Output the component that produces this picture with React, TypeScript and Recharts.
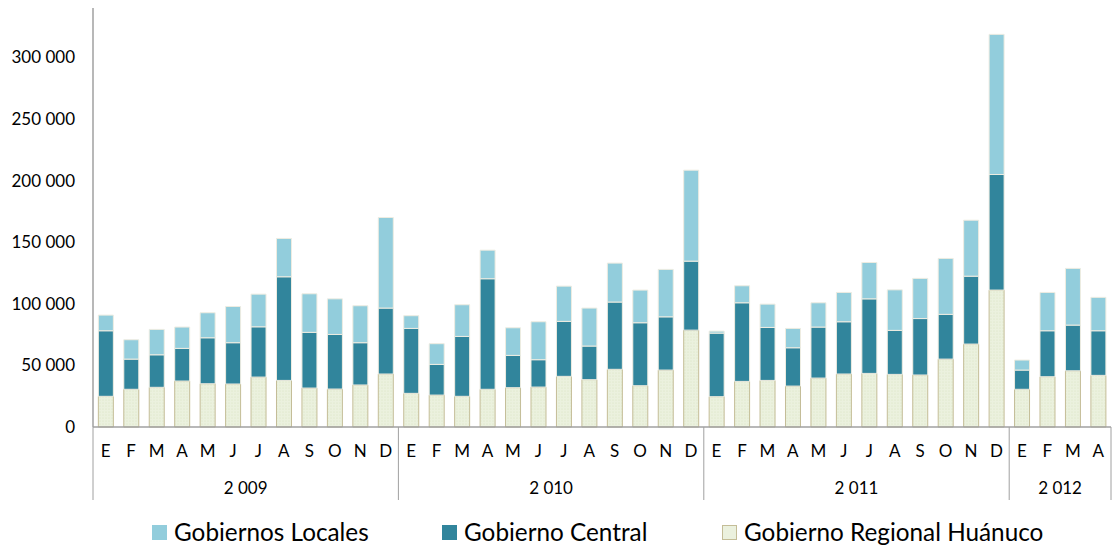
import { Bar, BarChart, XAxis, YAxis } from "recharts";

const months = [
  "E", "F", "M", "A", "M", "J", "J", "A", "S", "O", "N", "D",
  "E", "F", "M", "A", "M", "J", "J", "A", "S", "O", "N", "D",
  "E", "F", "M", "A", "M", "J", "J", "A", "S", "O", "N", "D",
  "E", "F", "M", "A",
];

const years = [
  2009, 2009, 2009, 2009, 2009, 2009, 2009, 2009, 2009, 2009, 2009, 2009,
  2010, 2010, 2010, 2010, 2010, 2010, 2010, 2010, 2010, 2010, 2010, 2010,
  2011, 2011, 2011, 2011, 2011, 2011, 2011, 2011, 2011, 2011, 2011, 2011,
  2012, 2012, 2012, 2012,
];

// Gobierno Regional Huánuco (bottom segment)
const regional = [
  24900, 30600, 32200, 37300, 35100, 34900, 40500, 37800, 31600, 30800, 34100, 43000,
  27300, 25900, 24900, 30600, 31900, 32400, 41100, 38400, 46800, 33500, 46200, 78600,
  24600, 37000, 37800, 33200, 39700, 43000, 43500, 42700, 42200, 55100, 67300, 111100,
  30600, 40800, 45600, 41900,
];

// Gobierno Central (middle segment)
const central = [
  53200, 24500, 26400, 26500, 37300, 33500, 40800, 84100, 45200, 44300, 34300, 53500,
  52700, 24900, 48600, 89700, 26200, 22200, 44600, 27300, 54600, 51100, 43200, 56000,
  51600, 63800, 43000, 31100, 41400, 42400, 60500, 35700, 45800, 36300, 55100, 93800,
  15600, 37300, 37100, 36200,
];

// Gobiernos Locales (top segment)
const locales = [
  12700, 15700, 20600, 17300, 20300, 29400, 26500, 31100, 31300, 28900, 30000, 73500,
  10300, 16800, 25700, 23200, 22400, 30800, 28600, 30800, 31600, 26500, 38500, 73800,
  1600, 13800, 18900, 15700, 19700, 23800, 29500, 32900, 32600, 45400, 45400, 113700,
  8100, 31100, 46000, 27100,
];

const yTicks = [0, 50000, 100000, 150000, 200000, 250000, 300000];

const data = months.map((m, i) => ({
  key: i,
  month: m,
  year: years[i],
  regional: regional[i],
  central: central[i],
  locales: locales[i],
}));

const FONT = "Lato, 'Open Sans', sans-serif";
const AXIS_COLOR = "#a0a0a0";
const W = 1114;
const H = 546;
const MARGIN = { top: 8, right: 3, left: 0, bottom: 39 };
const Y_WIDTH = 93;

const spaced = (v: number) => String(v).replace(/\B(?=(\d{3})+(?!\d))/g, " ");

function MonthTick(props: any) {
  const { x, y, payload, width, visibleTicksCount } = props;
  const i: number = payload.index;
  const n = months.length;
  const step = width && visibleTicksCount ? width / visibleTicksCount : (W - Y_WIDTH - MARGIN.right) / n;
  const isStart = i === 0 || years[i] !== years[i - 1];
  let end = i;
  while (end + 1 < n && years[end + 1] === years[i]) end++;
  const mid = (i + end) / 2;
  return (
    <g>
      <text x={x} y={y + 30} textAnchor="middle" fontSize={17} fontFamily={FONT} fill="#000">
        {months[i]}
      </text>
      {isStart ? (
        <>
          <line x1={x - step / 2} x2={x - step / 2} y1={y} y2={y + 73} stroke={AXIS_COLOR} />
          <text x={x + (mid - i) * step} y={y + 67} textAnchor="middle" fontSize={17} fontFamily={FONT} fill="#000">
            {spaced(years[i])}
          </text>
        </>
      ) : null}
      {i === n - 1 ? (
        <line x1={x + step / 2} x2={x + step / 2} y1={y} y2={y + 73} stroke={AXIS_COLOR} />
      ) : null}
    </g>
  );
}

const legendItems = [
  { label: "Gobiernos Locales", fill: "#92cddc", stroke: "#92cddc", left: 152 },
  { label: "Gobierno Central", fill: "#31859c", stroke: "#31859c", left: 442 },
  { label: "Gobierno Regional Huánuco", fill: "#ebf1de", stroke: "#c4bd97", left: 722 },
];

export default function App() {
  return (
    <div style={{ position: "absolute", left: 0, top: 0, width: W, height: H, background: "#fff" }}>
      <BarChart width={W} height={H} data={data} margin={MARGIN} barCategoryGap="21%">
        <defs>
          <pattern id="regDots" width="3" height="3" patternUnits="userSpaceOnUse">
            <rect width="3" height="3" fill="#ebf1de" />
            <circle cx="1" cy="1" r="0.6" fill="#d8e4c0" />
          </pattern>
        </defs>
        <XAxis
          dataKey="key"
          interval={0}
          height={80}
          tickLine={false}
          tickSize={0}
          tickMargin={0}
          axisLine={{ stroke: AXIS_COLOR, strokeWidth: 1.5 }}
          tick={<MonthTick />}
        />
        <YAxis
          width={Y_WIDTH}
          domain={[0, 340000]}
          ticks={yTicks}
          tickFormatter={spaced}
          tickLine={false}
          tickSize={0}
          tickMargin={18}
          axisLine={{ stroke: AXIS_COLOR, strokeWidth: 1.5 }}
          tick={{ fontSize: 17, fontFamily: FONT, fill: "#000" }}
        />
        <Bar dataKey="regional" stackId="a" fill="url(#regDots)" stroke="#c4bd97" strokeWidth={1} isAnimationActive={false} />
        <Bar dataKey="central" stackId="a" fill="#31859c" stroke="#eeece1" strokeWidth={1} isAnimationActive={false} />
        <Bar dataKey="locales" stackId="a" fill="#92cddc" stroke="#eeece1" strokeWidth={1} isAnimationActive={false} />
      </BarChart>
      {legendItems.map((it) => (
        <div key={it.label} style={{ position: "absolute", left: it.left, top: 518, height: 28, display: "flex", alignItems: "center" }}>
          <div style={{ width: 13, height: 13, background: it.fill, border: `1px solid ${it.stroke}`, marginRight: 7 }} />
          <span style={{ fontFamily: FONT, fontSize: 24.3, color: "#000", lineHeight: "28px" }}>{it.label}</span>
        </div>
      ))}
    </div>
  );
}
